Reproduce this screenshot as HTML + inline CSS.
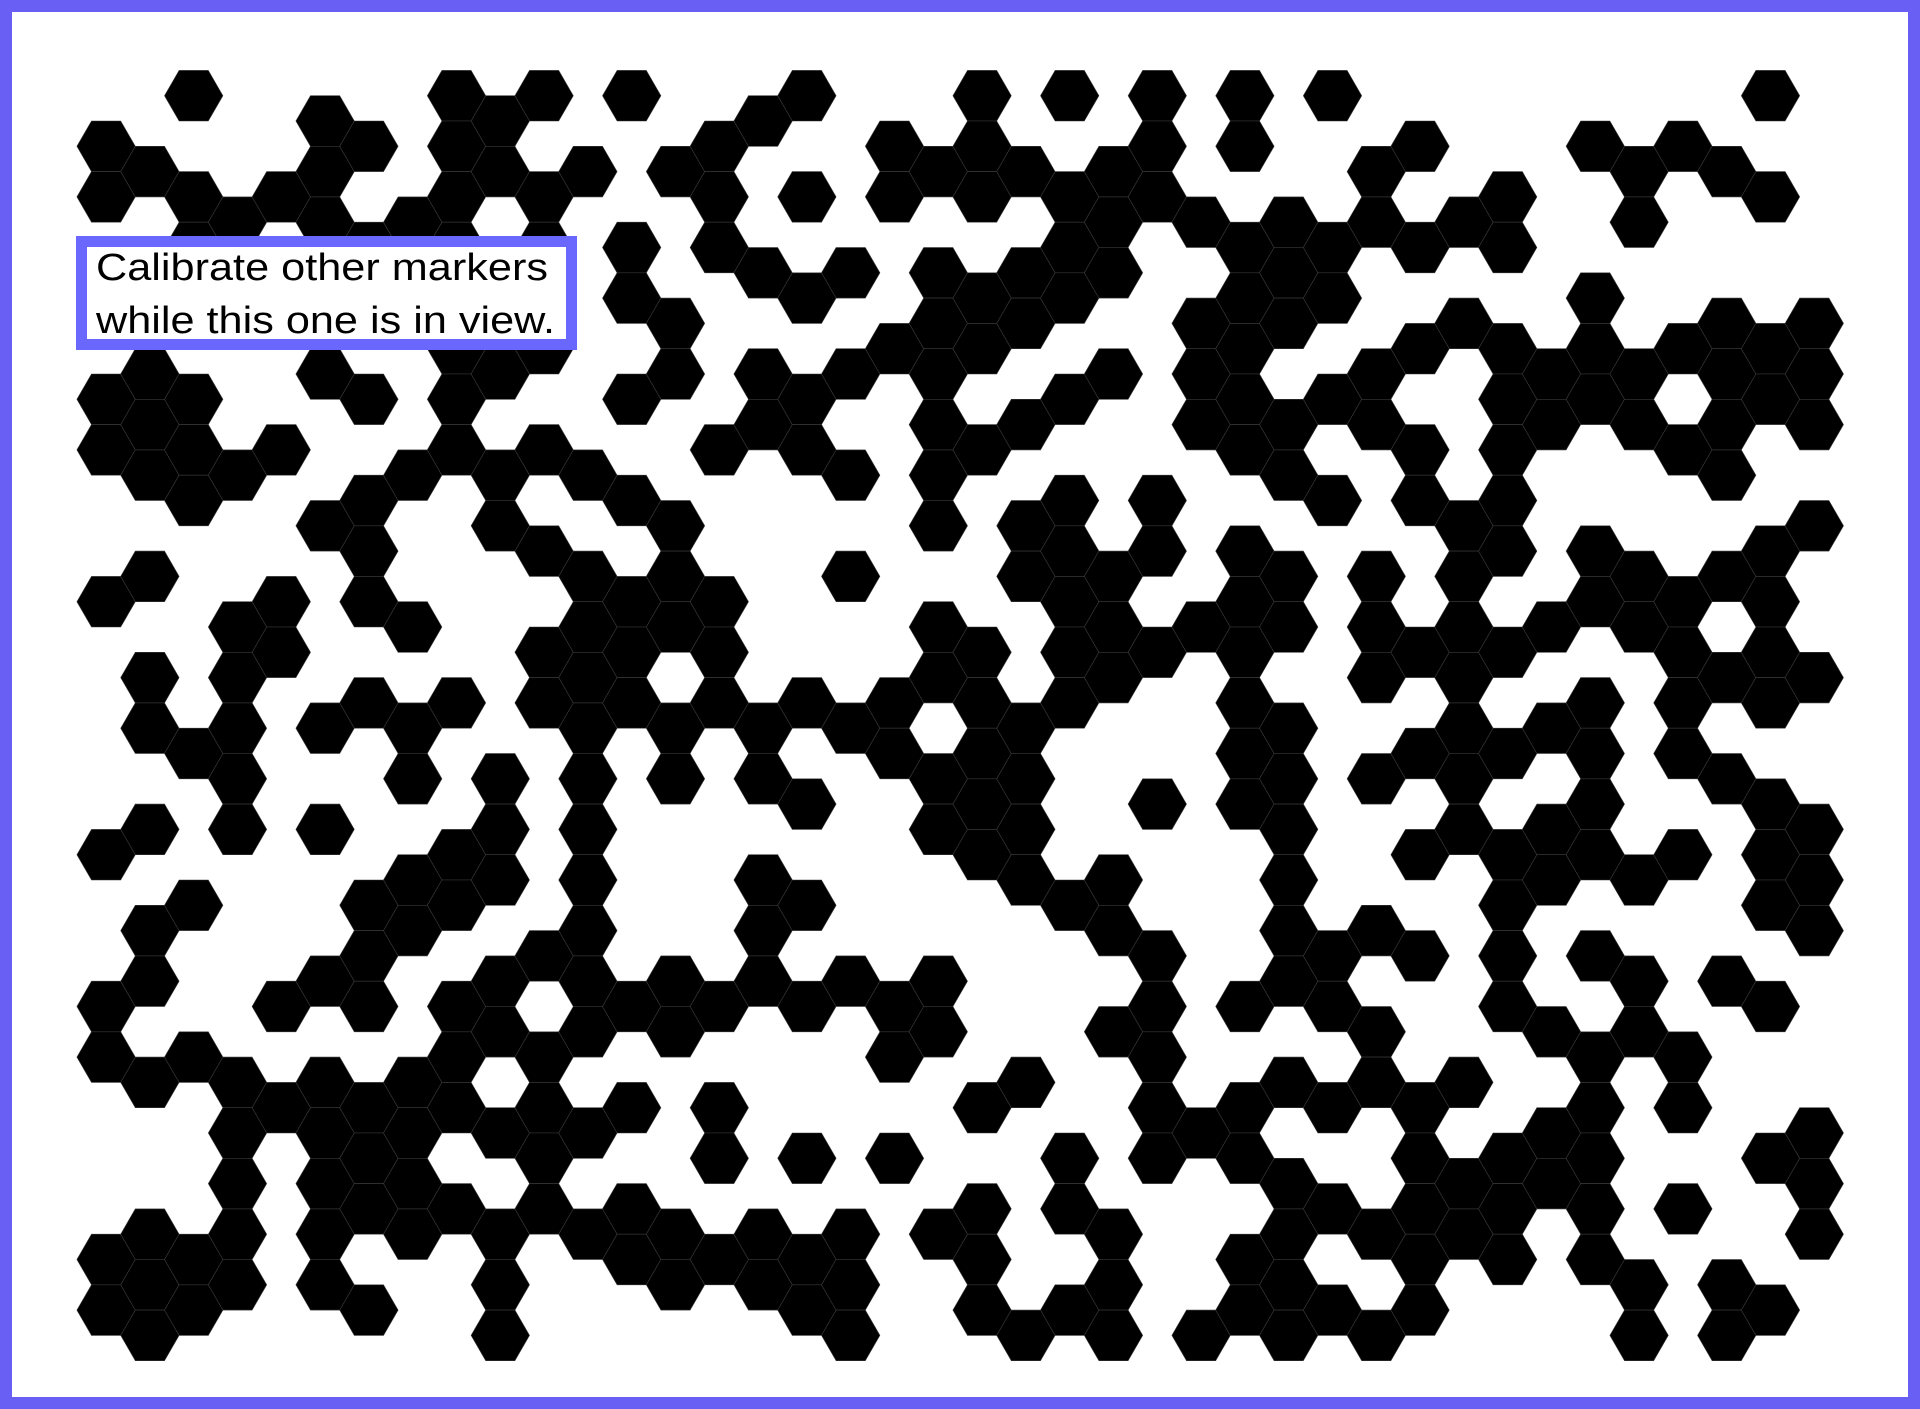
<!DOCTYPE html>
<html>
<head>
<meta charset="utf-8">
<style>
html,body{margin:0;padding:0;background:#fff;}
#wrap{position:relative;width:1920px;height:1409px;overflow:hidden;}
svg{display:block;}
</style>
</head>
<body>
<div id="wrap">
<svg id="chart" width="1920" height="1409" viewBox="0 0 1920 1409" xmlns="http://www.w3.org/2000/svg">
  <rect x="0" y="0" width="1920" height="1409" fill="#ffffff"/>
  <g id="cells"></g>
  <rect x="6" y="6" width="1908" height="1397" fill="none" stroke="#6a5ff5" stroke-width="12"/>
  <g>
    <rect x="81.5" y="241.5" width="490" height="103" fill="#ffffff" stroke="#6a67ff" stroke-width="11"/>
    <text x="96" y="280" font-family="Liberation Sans, DejaVu Sans, sans-serif" font-size="38" fill="#000" textLength="452" lengthAdjust="spacingAndGlyphs">Calibrate other markers</text>
    <text x="96" y="333" font-family="Liberation Sans, DejaVu Sans, sans-serif" font-size="38" fill="#000" textLength="459" lengthAdjust="spacingAndGlyphs">while this one is in view.</text>
  </g>
</svg>
</div>
<script>
// Filled hex cells: for each column, the list of filled row indices.
const col00 = [1,2,6,7,10,15,18,19,23,24];
const col01 = [1,5,6,7,9,11,12,14,16,17,19,22,23,24];
const col02 = [0,2,3,6,7,8,13,16,19,23,24];
const col03 = [2,7,10,11,12,13,14,19,20,21,22,23];
const col04 = [2,7,10,11,18,20];
const col05 = [0,1,2,5,8,12,14,17,19,20,21,22,23];
const col06 = [1,3,6,8,9,10,12,16,17,18,20,21,22,24];
const col07 = [2,7,10,12,13,15,16,19,20,21,22];
const col08 = [0,1,2,3,4,5,6,7,12,15,16,18,19,20,22];
const col09 = [0,1,5,7,8,13,14,15,17,18,20,22,23,24];
const col10 = [0,2,3,5,7,9,11,12,17,19,20,21,22];
const col11 = [1,7,9,10,11,12,13,14,15,16,17,18,20,22];
const col12 = [0,3,4,6,8,10,11,12,18,20,22,23];
const col13 = [1,4,5,8,9,10,12,13,17,18,22,23];
const col14 = [1,2,3,7,10,11,12,18,20,21,23];
const col15 = [0,3,5,6,12,13,15,16,17,22,23];
const col16 = [0,2,4,6,7,12,14,16,18,21,23,24];
const col17 = [3,5,7,9,12,17,22,23,24];
const col18 = [1,2,5,12,13,18,19,21];
const col19 = [1,3,4,5,6,7,8,10,11,13,14,17,18,22];
const col20 = [0,1,2,4,5,7,11,12,13,14,15,20,22,23,24];
const col21 = [1,3,4,6,8,9,12,13,14,15,19,24];
const col22 = [0,2,3,4,6,8,9,10,11,12,16,21,22,24];
const col23 = [1,2,3,5,9,10,11,15,16,18,22,23,24];
const col24 = [0,1,2,8,9,11,14,17,18,19,20,21];
const col25 = [2,4,5,6,10,20,24];
const col26 = [0,1,3,4,5,6,7,9,10,11,12,13,14,18,20,21,23,24];
const col27 = [2,3,4,6,7,9,10,12,13,14,15,16,17,19,21,22,23,24];
const col28 = [0,3,4,6,8,17,18,20,22,24];
const col29 = [1,2,5,6,9,10,11,13,16,18,19,22,24];
const col30 = [1,3,5,7,8,11,13,15,17,20,21,22,23,24];
const col31 = [2,4,8,9,10,11,12,13,14,19,21,22];
const col32 = [2,3,5,6,7,8,9,11,13,15,16,17,18,21,22,23];
const col33 = [5,6,10,12,14,15,18,20,21];
const col34 = [1,4,5,6,9,10,12,13,14,15,17,19,20,21,22,23];
const col35 = [1,2,5,6,9,10,15,17,18,23,24];
const col36 = [1,5,7,10,11,12,13,15,19,20,22];
const col37 = [1,4,5,6,7,9,11,13,17,23,24];
const col38 = [0,2,5,6,9,10,11,12,14,15,16,18,21,24];
const col39 = [4,5,6,8,11,14,15,16,20,21,22];

const columns = [col00,col01,col02,col03,col04,col05,col06,col07,col08,col09,
  col10,col11,col12,col13,col14,col15,col16,col17,col18,col19,
  col20,col21,col22,col23,col24,col25,col26,col27,col28,col29,
  col30,col31,col32,col33,col34,col35,col36,col37,col38,col39];

// Grid geometry (axis functions)
const R = 29.2;
const H = 50.6;
function xOf(c){ return 106.1 + 43.8 * c; }
function yOf(c, k){ return (c % 2 === 0 ? 95.7 : 121.0) + H * k; }

const NS = 'http://www.w3.org/2000/svg';
const g = document.getElementById('cells');
columns.forEach(function(rows, c){
  rows.forEach(function(k){
    const cx = xOf(c), cy = yOf(c, k);
    const pts = [
      [cx + R, cy], [cx + R/2, cy + H/2], [cx - R/2, cy + H/2],
      [cx - R, cy], [cx - R/2, cy - H/2], [cx + R/2, cy - H/2]
    ].map(function(p){ return p[0].toFixed(2) + ',' + p[1].toFixed(2); }).join(' ');
    const poly = document.createElementNS(NS, 'polygon');
    poly.setAttribute('points', pts);
    poly.setAttribute('fill', '#000');
    poly.setAttribute('stroke', '#3a3a3a');
    poly.setAttribute('stroke-width', '0.6');
    
    
    g.appendChild(poly);
  });
});
</script>
</body>
</html>
